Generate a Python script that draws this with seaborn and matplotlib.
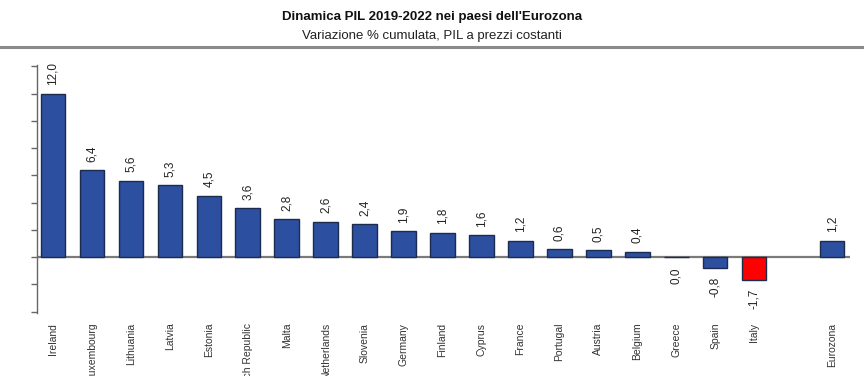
import matplotlib
matplotlib.use("Agg")
import matplotlib.pyplot as plt
import seaborn as sns
import pandas as pd
from matplotlib.lines import Line2D

countries = ["Ireland", "Luxembourg", "Lithuania", "Latvia", "Estonia", "Czech Republic",
             "Malta", "Netherlands", "Slovenia", "Germany", "Finland", "Cyprus", "France",
             "Portugal", "Austria", "Belgium", "Greece", "Spain", "Italy", "Eurozona"]
values = [12.0, 6.4, 5.6, 5.3, 4.5, 3.6, 2.8, 2.6, 2.4, 1.9, 1.8, 1.6, 1.2,
          0.6, 0.5, 0.4, 0.0, -0.8, -1.7, 1.2]
order = countries[:-1] + [" "] + countries[-1:]
title = "Dinamica PIL 2019-2022 nei paesi dell'Eurozona"
subtitle = "Variazione % cumulata, PIL a prezzi costanti"

BLUE = "#2d4f9f"
RED = "#ff0000"
palette = {c: (RED if c == "Italy" else BLUE) for c in countries}

sns.set_theme(style="white")
plt.rcParams["font.family"] = ["Liberation Sans Narrow", "Liberation Sans", "DejaVu Sans"]

df = pd.DataFrame({"country": countries, "value": values})

fig = plt.figure(figsize=(8.64, 3.76), dpi=100)
ax = fig.add_axes([37 / 864, 1 - 313 / 376, (850 - 37) / 864, (313 - 65) / 376])

sns.barplot(data=df, x="country", y="value", hue="country", palette=palette,
            order=order, hue_order=countries, legend=False, width=0.63,
            edgecolor="#1c2b4e", linewidth=1.0, ax=ax, dodge=False, saturation=1)

ax.set_ylim(-4.1, 14.1)
ax.set_xlim(-0.41, 20.46)
ax.axhline(0, color="#7a7a7a", lw=1.6, zorder=0.5)

ax.set_yticks(range(-4, 15, 2))
ax.set_yticklabels([])
ax.tick_params(axis="y", direction="out", length=4, width=1, color="#666666", left=True)
ax.tick_params(axis="x", length=0, pad=7, labelsize=7.5, labelcolor="#333333")
for lab in ax.get_xticklabels():
    lab.set_rotation(90)
    lab.set_va("top")
    lab.set_ha("center")

for s in ["top", "right", "bottom"]:
    ax.spines[s].set_visible(False)
ax.spines["left"].set_color("#666666")
ax.spines["left"].set_linewidth(1.0)
ax.set_xlabel("")
ax.set_ylabel("")

for c, v in zip(countries, values):
    i = order.index(c)
    txt = f"{v:.1f}".replace(".", ",")
    if v > 0:
        ax.annotate(txt, xy=(i, v), xytext=(0, 6), textcoords="offset points",
                    rotation=90, ha="center", va="bottom", fontsize=8.5, color="#222222")
    else:
        ax.annotate(txt, xy=(i, min(v, -0.15)), xytext=(0, -6), textcoords="offset points",
                    rotation=90, ha="center", va="top", fontsize=8.5, color="#222222")

fig.text(0.5, 1 - 17 / 376, title, ha="center", va="center", fontsize=9.5, fontweight="bold",
         color="#111111")
fig.text(0.5, 1 - 36 / 376, subtitle, ha="center", va="center", fontsize=9.5, color="#222222")
fig.add_artist(Line2D([0, 1], [1 - 47 / 376, 1 - 47 / 376], color="#8a8a8a", lw=2.2,
                      transform=fig.transFigure))

fig.savefig("out.png", dpi=100)
